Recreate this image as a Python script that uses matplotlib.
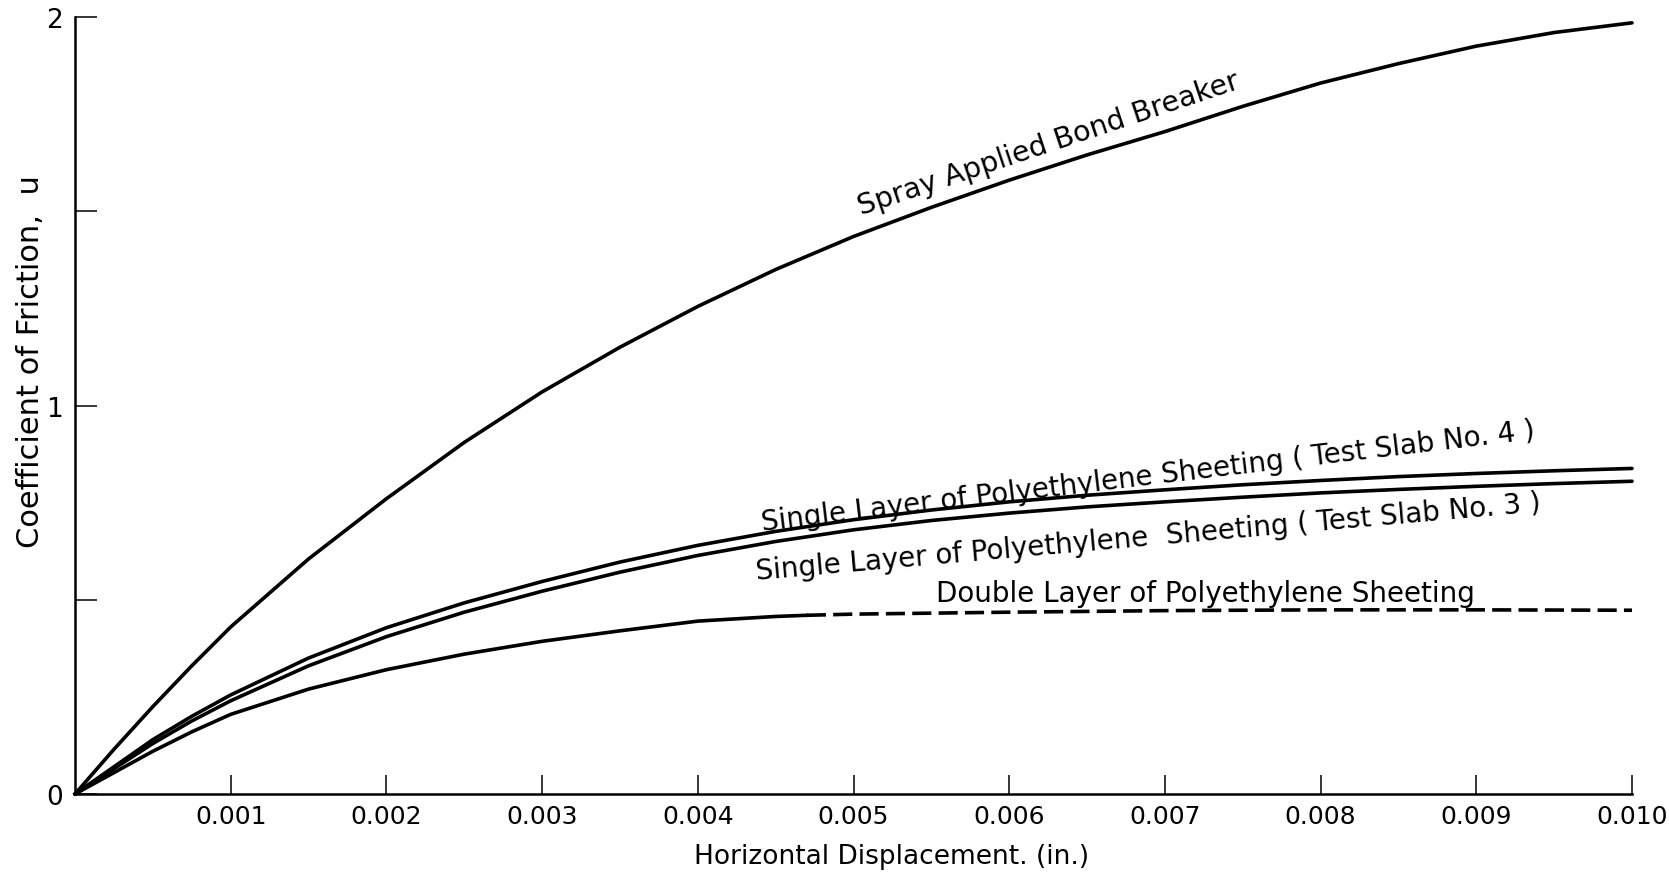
import matplotlib
matplotlib.use("Agg")
import matplotlib.pyplot as plt

# horizontal displacement (in.)
disp = [0.0, 0.00025, 0.0005, 0.00075, 0.001, 0.0015, 0.002, 0.0025, 0.003, 0.0035,
        0.004, 0.0045, 0.005, 0.0055, 0.006, 0.0065, 0.007, 0.0075, 0.008, 0.0085,
        0.009, 0.0095, 0.010]

spray = [0.0, 0.115, 0.225, 0.33, 0.43, 0.605, 0.76, 0.905, 1.035, 1.15,
         1.255, 1.35, 1.435, 1.51, 1.58, 1.645, 1.705, 1.77, 1.83, 1.88,
         1.925, 1.96, 1.985]

slab4 = [0.0, 0.07, 0.14, 0.20, 0.255, 0.35, 0.428, 0.492, 0.547, 0.597,
         0.64, 0.676, 0.706, 0.731, 0.752, 0.769, 0.783, 0.796, 0.807, 0.817,
         0.825, 0.832, 0.838]

slab3 = [0.0, 0.065, 0.13, 0.188, 0.24, 0.33, 0.405, 0.468, 0.522, 0.571,
         0.614, 0.65, 0.68, 0.704, 0.723, 0.739, 0.752, 0.764, 0.775, 0.784,
         0.792, 0.799, 0.805]

# double layer: measured part drawn solid, extrapolated part dashed
double_x = [0.0, 0.00025, 0.0005, 0.00075, 0.001, 0.0015, 0.002, 0.0025, 0.003,
            0.0035, 0.004, 0.0045, 0.0047]
double_y = [0.0, 0.055, 0.11, 0.16, 0.205, 0.27, 0.32, 0.36, 0.393,
            0.42, 0.445, 0.457, 0.460]
double_dash_x = [0.0047, 0.005, 0.006, 0.007, 0.008, 0.009, 0.010]
double_dash_y = [0.460, 0.463, 0.468, 0.472, 0.474, 0.474, 0.473]

xticks = [0.001, 0.002, 0.003, 0.004, 0.005, 0.006, 0.007, 0.008, 0.009, 0.010]
xtick_labels = ["0.001", "0.002", "0.003", "0.004", "0.005", "0.006", "0.007",
                "0.008", "0.009", "0.010"]
yticks = [0, 0.5, 1, 1.5, 2]
ytick_labels = ["0", "", "1", "", "2"]

plt.rcParams['font.family'] = ['DejaVu Sans']

fig = plt.figure(figsize=(16.69, 8.78), dpi=100)
ax = fig.add_axes([0.04494, 0.09453, 0.93289, 0.88497])

lw = 2.6
ax.plot(disp, spray, color='black', lw=lw, clip_on=False, solid_capstyle='round')
ax.plot(disp, slab4, color='black', lw=lw, clip_on=False, solid_capstyle='round')
ax.plot(disp, slab3, color='black', lw=lw, clip_on=False, solid_capstyle='round')
ax.plot(double_x, double_y, color='black', lw=lw, clip_on=False)
ax.plot(double_dash_x, double_dash_y, color='black', lw=lw, clip_on=False,
        linestyle=(0, (5.3, 2.0)))

# curve labels written along the lines
ax.text(0.00625, 1.676, "Spray Applied Bond Breaker", fontsize=20.5,
        rotation=18.5, ha='center', va='center', rotation_mode='anchor')
ax.text(0.00689, 0.818, "Single Layer of Polyethylene Sheeting ( Test Slab No. 4 )",
        fontsize=20, rotation=6.8, ha='center', va='center', rotation_mode='anchor')
ax.text(0.00689, 0.663, "Single Layer of Polyethylene  Sheeting ( Test Slab No. 3 )",
        fontsize=20, rotation=5, ha='center', va='center', rotation_mode='anchor')
ax.text(0.00726, 0.517, "Double Layer of Polyethylene Sheeting",
        fontsize=20, ha='center', va='center')

ax.set_xlim(0, 0.010)
ax.set_ylim(0, 2)
ax.set_xticks(xticks)
ax.set_xticklabels(xtick_labels)
ax.set_yticks(yticks)
ax.set_yticklabels(ytick_labels)

for side in ['top', 'right']:
    ax.spines[side].set_visible(False)
for side in ['left', 'bottom']:
    ax.spines[side].set_linewidth(1.8)

ax.tick_params(axis='x', direction='in', length=14, width=1.1, labelsize=18, pad=7)
ax.tick_params(axis='y', direction='in', length=16, width=1.1, labelsize=19, pad=9)

fig.text(0.018, 0.588, "Coefficient of Friction,  u", rotation=90,
         ha='center', va='center', fontsize=22)
fig.text(0.534, 0.024, "Horizontal Displacement. (in.)", ha='center', va='center',
         fontsize=19)

fig.savefig("out.png", dpi=100, facecolor='white')
